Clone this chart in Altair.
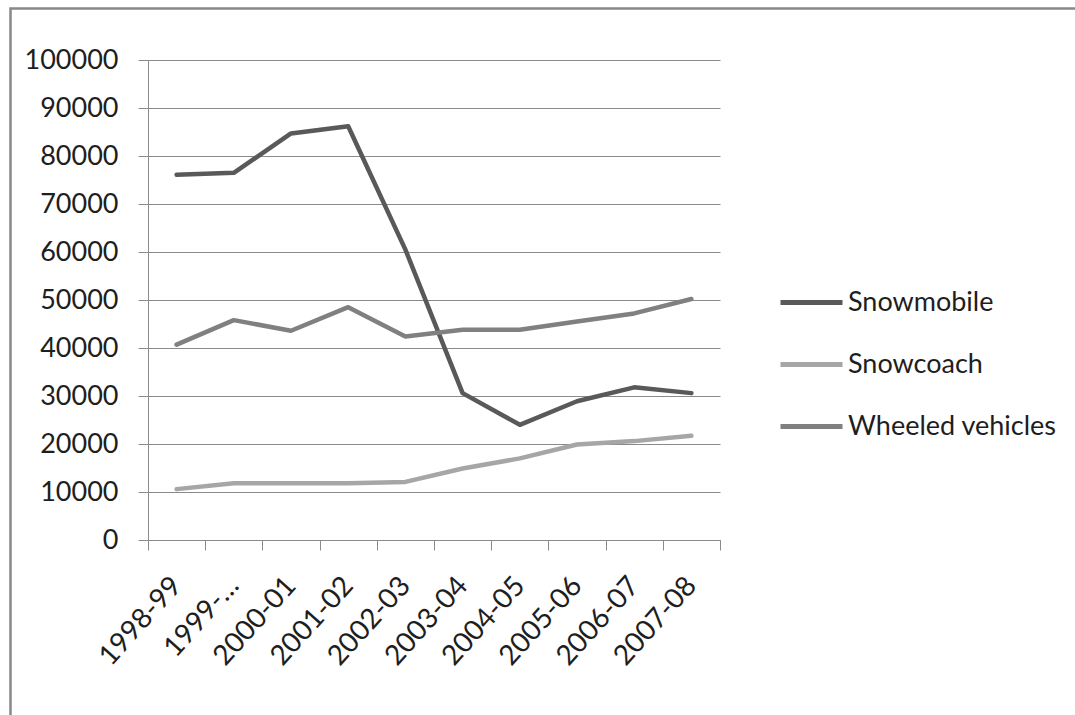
import altair as alt
import pandas as pd

# Winter-season vehicle entries by type
seasons = ["1998-99", "1999-00", "2000-01", "2001-02", "2002-03",
           "2003-04", "2004-05", "2005-06", "2006-07", "2007-08"]
snowmobile = [76100, 76500, 84700, 86200, 60500, 30600, 24000, 28900, 31800, 30600]
snowcoach = [10600, 11800, 11800, 11800, 12100, 14900, 17000, 19900, 20600, 21700]
wheeled = [40700, 45800, 43600, 48500, 42400, 43800, 43800, 45500, 47200, 50200]

series_names = ["Snowmobile", "Snowcoach", "Wheeled vehicles"]
series_colors = ["#595959", "#a6a6a6", "#808080"]
y_ticks = list(range(0, 100001, 10000))

rows = []
for name, values in zip(series_names, [snowmobile, snowcoach, wheeled]):
    for s, v in zip(seasons, values):
        rows.append({"season": s, "series": name, "value": v})
df = pd.DataFrame(rows)

FONT = "Lato"
GRAY = "#8a8a8a"
INK = "#1e1e1e"

lines = alt.Chart(df).mark_line(strokeWidth=4.5, strokeCap="round", strokeJoin="round").encode(
    x=alt.X(
        "season:N",
        sort=seasons,
        bandPosition=0.5,
        scale=alt.Scale(type="band", paddingInner=0, paddingOuter=0),
        axis=alt.Axis(
            title=None,
            tickBand="extent",
            labelAngle=-48,
            labelAlign="right",
            labelBaseline="middle",
            labelPadding=31,
            labelFontSize=28,
            labelFont=FONT,
            labelColor=INK,
            tickSize=10,
            tickColor=GRAY,
            domainColor=GRAY,
            labelExpr="datum.value == '1999-00' ? '1999-…' : datum.value",
        ),
    ),
    y=alt.Y(
        "value:Q",
        scale=alt.Scale(domain=[0, 100000], nice=False),
        axis=alt.Axis(
            title=None,
            values=y_ticks,
            format="d",
            tickSize=10,
            tickColor=GRAY,
            domainColor=GRAY,
            gridColor=GRAY,
            labelFontSize=27,
            labelFont=FONT,
            labelColor=INK,
            labelPadding=20,
        ),
    ),
    color=alt.Color(
        "series:N",
        scale=alt.Scale(domain=series_names, range=series_colors),
        legend=alt.Legend(
            title=None,
            orient="none",
            legendX=630,
            legendY=209,
            symbolType="stroke",
            symbolSize=3844,
            symbolStrokeWidth=5,
            labelFontSize=27,
            labelFont=FONT,
            labelColor=INK,
            labelOffset=3,
            labelLimit=400,
            rowPadding=15,
            padding=0,
        ),
    ),
)

frame = alt.Chart(alt.Data(values=[{}])).mark_rect(
    fill="transparent", stroke="#888888", strokeWidth=2.5
).encode(
    x=alt.value(-137.5),
    y=alt.value(-51.5),
    x2=alt.value(1100),
    y2=alt.value(800),
)

chart = alt.layer(frame, lines).properties(
    width=572,
    height=480,
    autosize=alt.AutoSizeParams(type="none"),
    padding={"left": 148, "top": 60, "right": 355, "bottom": 175},
    background="white",
).configure_view(strokeWidth=0)

chart.save("out.html", embed_options={"renderer": "svg", "actions": False})
